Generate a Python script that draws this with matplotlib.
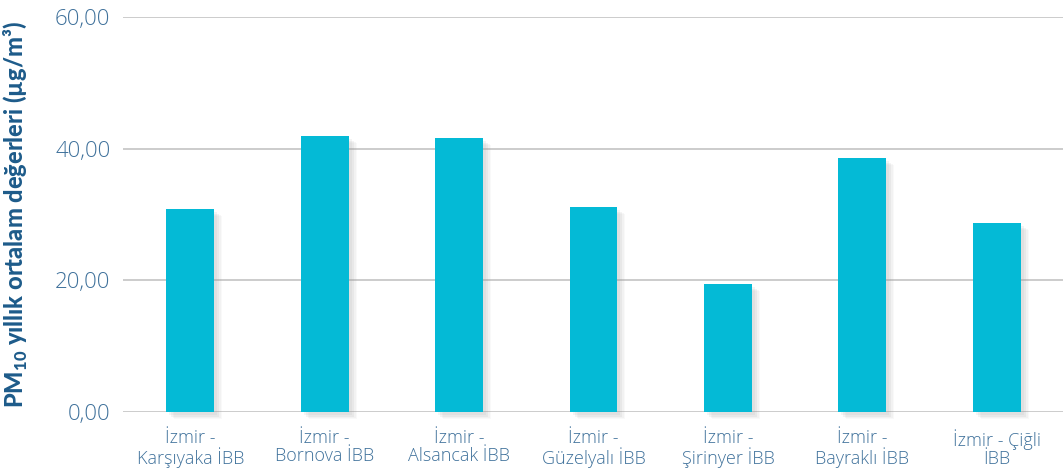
import matplotlib

matplotlib.use("Agg")
import matplotlib.pyplot as plt
import matplotlib.transforms as mtransforms

stations = [
    "İzmir -\nKarşıyaka İBB",
    "İzmir -\nBornova İBB",
    "İzmir -\nAlsancak İBB",
    "İzmir -\nGüzelyalı İBB",
    "İzmir -\nŞirinyer İBB",
    "İzmir -\nBayraklı İBB",
    "İzmir - Çiğli\nİBB",
]
pm10_means = [30.8, 41.9, 41.6, 31.1, 19.4, 38.6, 28.7]
y_ticks = [0, 20, 40, 60]
y_tick_labels = ["0,00", "20,00", "40,00", "60,00"]

bar_color = "#04bad6"
label_color = "#3f719b"
title_color = "#1d5b8a"

plt.rcParams["font.family"] = ["Open Sans", "DejaVu Sans"]
plt.rcParams["mathtext.fontset"] = "custom"
plt.rcParams["mathtext.bf"] = "Lato:black"
plt.rcParams["mathtext.rm"] = "Lato"

fig = plt.figure(figsize=(10.63, 4.71), dpi=100)
ax = fig.add_axes([123 / 1063, 1 - 412 / 471, (1064 - 123) / 1063, (412 - 17) / 471])

x = list(range(len(stations)))
width = 0.355

# soft drop shadow: a few stacked translucent copies shifted right/down
for dx, dy, a in [(3, -3, 0.10), (5, -5, 0.10), (7, -6, 0.07), (8, -7, 0.05)]:
    shift = mtransforms.offset_copy(ax.transData, fig=fig, x=dx, y=dy, units="dots")
    ax.bar(x, pm10_means, width=width, color="#9a9a9a", alpha=a, zorder=1.5,
           transform=shift, clip_on=False, linewidth=0)

ax.bar(x, pm10_means, width=width, color=bar_color, zorder=3, linewidth=0)

ax.set_xlim(-0.5, len(stations) - 0.5)
ax.set_ylim(0, 60)
ax.set_yticks(y_ticks)
ax.set_yticklabels(y_tick_labels)
ax.set_xticks(x)
ax.set_xticklabels(stations, linespacing=1.05)

ax.grid(axis="y", color="#c4c4c4", linewidth=1.2, zorder=1)
ax.set_axisbelow(True)
for side in ["top", "right", "left", "bottom"]:
    ax.spines[side].set_visible(False)
ax.tick_params(axis="both", length=0)
ax.tick_params(axis="y", pad=9, labelsize=16, labelcolor=label_color)
ax.tick_params(axis="x", pad=12, labelsize=13, labelcolor=label_color)
for lbl in ax.get_yticklabels() + ax.get_xticklabels():
    lbl.set_fontweight("light")

ax.set_ylabel(r"PM$_{\mathbf{10}}$ yıllık ortalam değerleri (µg/m³)",
              family="Lato", fontsize=17, fontweight="black", color=title_color)
ax.yaxis.set_label_coords(-94 / 941, 0.5)

fig.savefig("out.png", dpi=100)
